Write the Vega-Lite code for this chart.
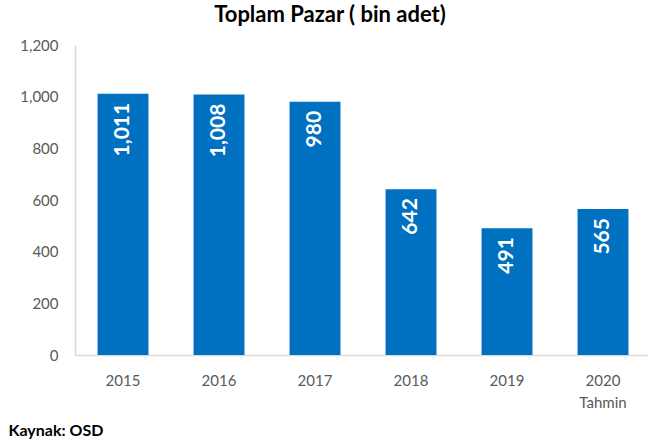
{
  "$schema": "https://vega.github.io/schema/vega-lite/v6.json",
  "autosize": "none",
  "padding": {"left": 75, "top": 45, "right": 0, "bottom": 84},
  "width": 576,
  "height": 310,
  "background": "white",
  "title": {
    "text": "Toplam Pazar ( bin adet)",
    "font": "Lato",
    "fontSize": 22,
    "fontWeight": "bold",
    "color": "#000000",
    "anchor": "middle",
    "frame": "group",
    "dx": -33,
    "offset": 11
  },
  "data": {
    "values": [
      {"year": "2015", "value": 1011},
      {"year": "2016", "value": 1008},
      {"year": "2017", "value": 980},
      {"year": "2018", "value": 642},
      {"year": "2019", "value": 491},
      {"year": "2020", "value": 565}
    ]
  },
  "encoding": {
    "x": {
      "field": "year",
      "type": "nominal",
      "sort": null,
      "scale": {"paddingInner": 0.47, "paddingOuter": 0.235},
      "axis": {
        "title": "Kaynak: OSD",
        "titleFont": "Lato",
        "titleFontSize": 16,
        "titleFontWeight": "bold",
        "titleColor": "#000000",
        "titleAnchor": "start",
        "titleAlign": "left",
        "titleBaseline": "middle",
        "titleX": -67,
        "titleY": 75,
        "labelAngle": 0,
        "labelFont": "Lato",
        "labelFontSize": 15,
        "labelColor": "#595959",
        "labelPadding": 18,
        "labelLineHeight": 22,
        "labelExpr": "datum.value == '2020' ? ['2020', 'Tahmin'] : datum.value",
        "ticks": false,
        "domainColor": "#D9D9D9",
        "domainWidth": 1.5
      }
    },
    "y": {
      "field": "value",
      "type": "quantitative",
      "scale": {"domain": [0, 1200]},
      "axis": {
        "title": null,
        "values": [0, 200, 400, 600, 800, 1000, 1200],
        "format": ",d",
        "grid": false,
        "ticks": false,
        "labelFont": "Lato",
        "labelFontSize": 15,
        "labelColor": "#595959",
        "labelPadding": 17,
        "domainColor": "#D9D9D9",
        "domainWidth": 1.5
      }
    }
  },
  "layer": [
    {"mark": {"type": "bar", "color": "#0070C0"}},
    {
      "mark": {
        "type": "text",
        "angle": -90,
        "align": "right",
        "baseline": "middle",
        "dx": -9,
        "font": "Lato",
        "fontSize": 21,
        "fontWeight": "bold",
        "color": "white"
      },
      "encoding": {
        "text": {"field": "value", "type": "quantitative", "format": ",d"}
      }
    }
  ],
  "config": {"view": {"stroke": null}}
}
